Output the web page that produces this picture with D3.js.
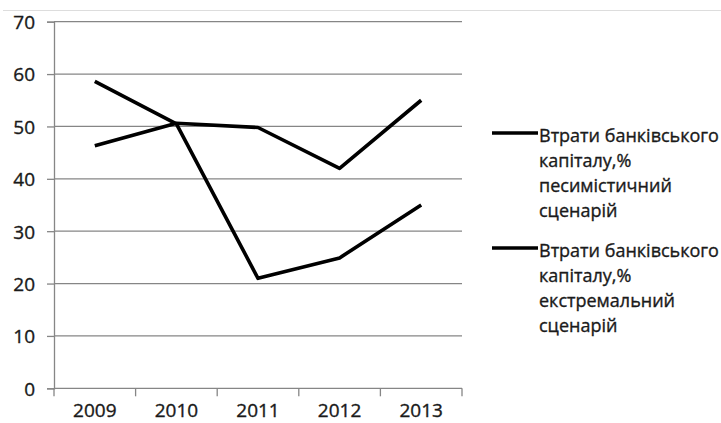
<!DOCTYPE html>
<html>
<head>
<meta charset="utf-8">
<script src="https://cdn.jsdelivr.net/npm/d3@7"></script>
<style>
  body { margin: 0; background: #fff; }
  text { font-family: "Open Sans", sans-serif; fill: #1a1a1a; stroke: #1a1a1a; stroke-width: 0.35px; }
</style>
</head>
<body>
<svg id="lineGraph"></svg>
<script>
// data
var years = ["2009", "2010", "2011", "2012", "2013"];
var pessimistic = [46.3, 50.6, 49.8, 42.0, 55.0];
var extreme = [58.6, 50.5, 21.0, 24.9, 35.0];
var yTicks = [0, 10, 20, 30, 40, 50, 60, 70];
var seriesNames = [
    ["Втрати банківського", "капіталу,%", "песимістичний", "сценарій"],
    ["Втрати банківського", "капіталу,%", "екстремальний", "сценарій"]
];

var screen = {width: 721, height: 423};
var margins = {top: 21.7, left: 54, right: 259, bottom: 34.7};
var graph = {
    width: screen.width - margins.left - margins.right,
    height: screen.height - margins.top - margins.bottom
};

var svg = d3.select("svg#lineGraph")
    .attr("width", screen.width)
    .attr("height", screen.height);

// faint line across the top
svg.append("line")
    .attr("x1", 3).attr("x2", screen.width)
    .attr("y1", 10.5).attr("y2", 10.5)
    .attr("stroke", "#dddddd")
    .attr("stroke-width", 1);

var xScale = d3.scaleBand()
    .domain(years)
    .range([0, graph.width]);

var yScale = d3.scaleLinear()
    .domain([0, 70])
    .range([graph.height, 0]);

var g = svg.append("g")
    .attr("transform", "translate(" + margins.left + "," + margins.top + ")");

// gridlines
g.append("g")
    .selectAll("line")
    .data(yTicks.slice(1))
    .enter()
    .append("line")
    .attr("x1", 0).attr("x2", graph.width)
    .attr("y1", function(d) { return yScale(d); })
    .attr("y2", function(d) { return yScale(d); })
    .attr("stroke", "#868686")
    .attr("stroke-width", 1.3);

// y axis
var yAxis = g.append("g")
    .call(d3.axisLeft(yScale).tickValues(yTicks).tickSize(7).tickPadding(12));
yAxis.select(".domain").attr("stroke", "#868686").attr("stroke-width", 1.3);
yAxis.selectAll(".tick line").attr("stroke", "#868686").attr("stroke-width", 1.3);
yAxis.selectAll("text")
    .style("font-size", "19px")
    .attr("fill", "#1a1a1a")
    .attr("dy", "0.36em");

// x axis, ticks between categories
var xAxisG = g.append("g")
    .attr("transform", "translate(0," + graph.height + ")");
xAxisG.append("line")
    .attr("x1", 0).attr("x2", graph.width)
    .attr("stroke", "#868686").attr("stroke-width", 1.3);
xAxisG.selectAll(".tk")
    .data(years.concat(["end"]))
    .enter()
    .append("line")
    .attr("x1", function(d, i) { return i * xScale.step(); })
    .attr("x2", function(d, i) { return i * xScale.step(); })
    .attr("y1", 0).attr("y2", 8)
    .attr("stroke", "#868686").attr("stroke-width", 1.3);
xAxisG.selectAll("text")
    .data(years)
    .enter()
    .append("text")
    .text(function(d) { return d; })
    .attr("text-anchor", "middle")
    .attr("x", function(d) { return xScale(d) + xScale.bandwidth() / 2; })
    .attr("y", 28.5)
    .style("font-size", "19px");

// lines
var lineGenerator = d3.line()
    .x(function(d, i) { return xScale(years[i]) + xScale.bandwidth() / 2; })
    .y(function(d) { return yScale(d); });

g.selectAll(".series")
    .data([pessimistic, extreme])
    .enter()
    .append("path")
    .classed("series", true)
    .attr("d", lineGenerator)
    .attr("fill", "none")
    .attr("stroke", "#000")
    .attr("stroke-width", 3.6)
    .attr("stroke-linejoin", "round");

// legend
var legendTops = [133, 248];
var legend = svg.append("g").selectAll("g")
    .data(seriesNames)
    .enter()
    .append("g")
    .attr("transform", function(d, i) { return "translate(492," + legendTops[i] + ")"; });

legend.append("line")
    .attr("x1", 0).attr("x2", 46)
    .attr("stroke", "#000")
    .attr("stroke-width", 3.6);

legend.append("text")
    .attr("x", 47)
    .attr("y", 9)
    .style("font-size", "18px")
    .selectAll("tspan")
    .data(function(d) { return d; })
    .enter()
    .append("tspan")
    .attr("x", 47)
    .attr("dy", function(d, i) { return i == 0 ? 0 : 25; })
    .text(function(d) { return d; });
</script>
</body>
</html>
